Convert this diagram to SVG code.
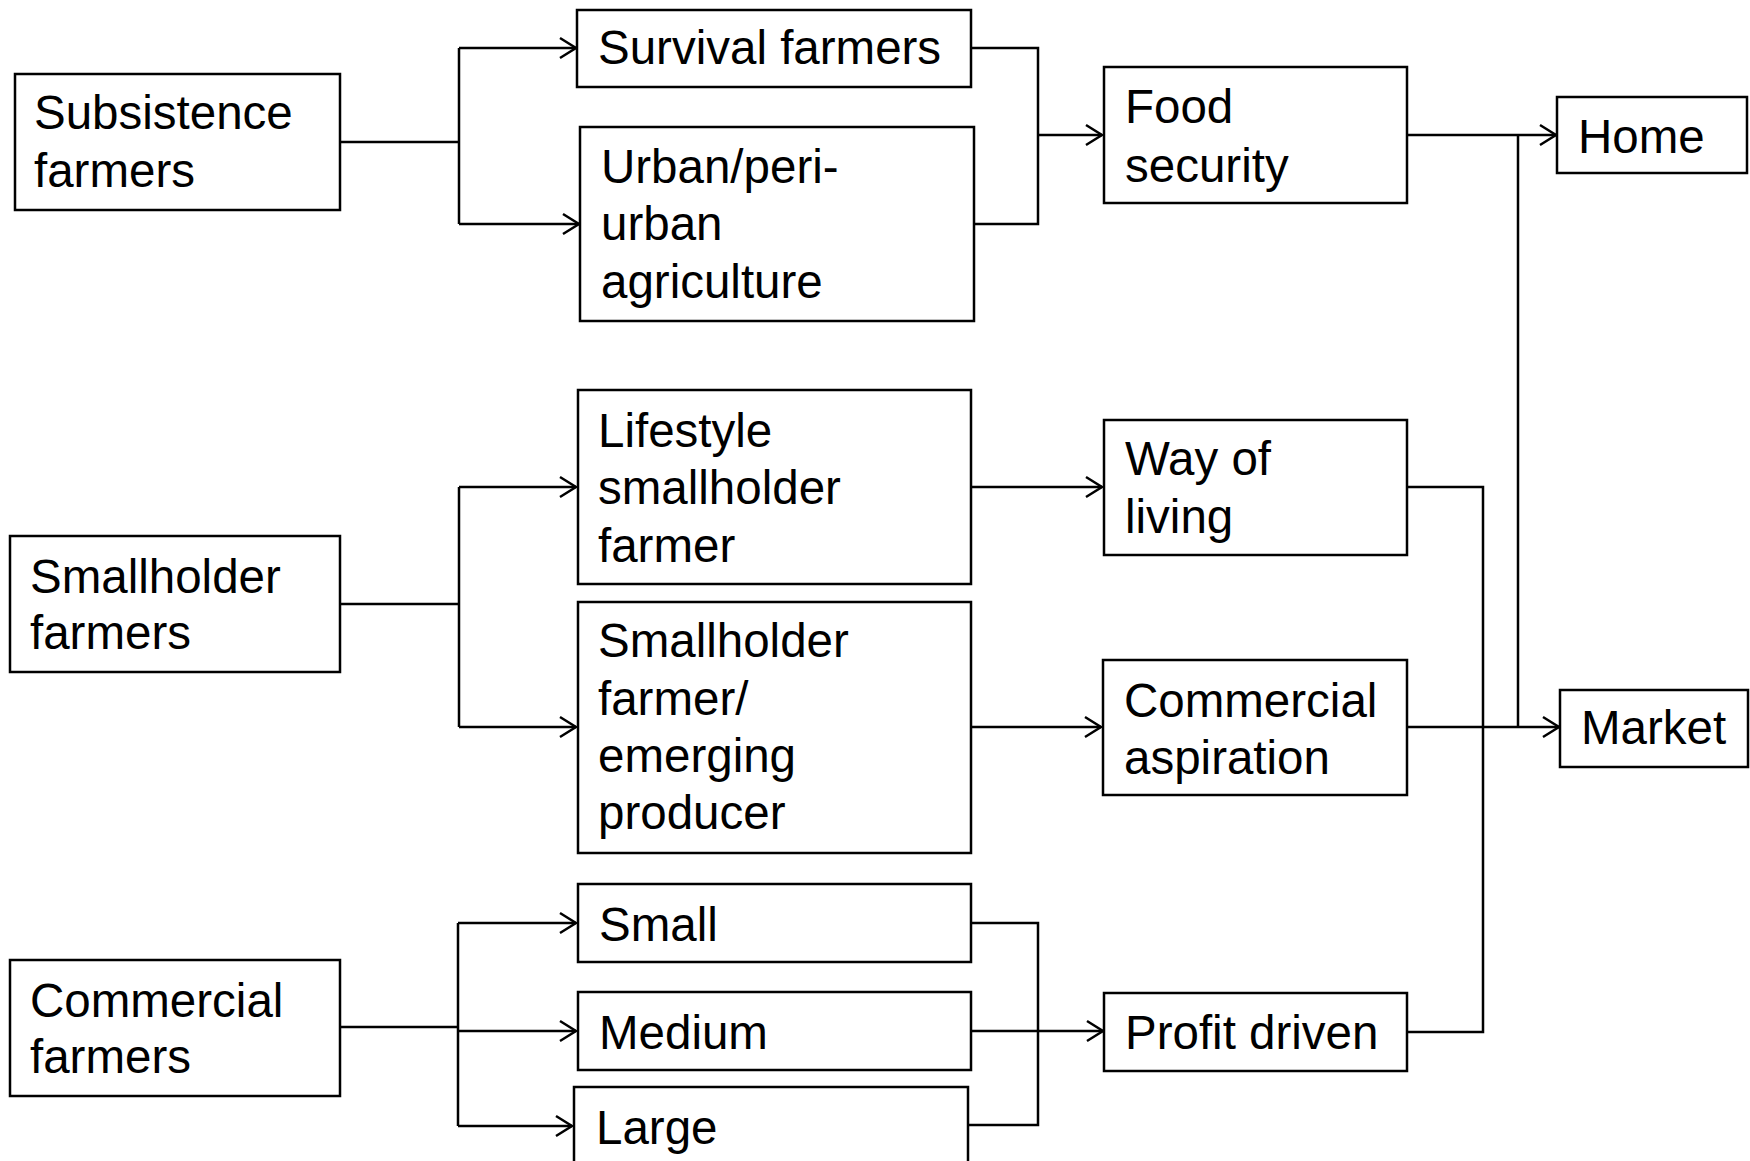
<svg xmlns="http://www.w3.org/2000/svg" width="1750" height="1161" viewBox="0 0 1750 1161">
<style>
.box{fill:#fff;stroke:#000;stroke-width:2.5}
.t{font-family:"Liberation Sans",Arial,sans-serif;font-size:47.5px;fill:#000}
.c{fill:none;stroke:#000;stroke-width:2.5}
.a{marker-end:url(#arr)}
</style>
<defs>
<marker id="arr" markerUnits="userSpaceOnUse" markerWidth="24" markerHeight="26" viewBox="-20 -13 24 26" refX="0" refY="0" orient="auto">
<path d="M-16,-10 L0,0 L-16,10" fill="none" stroke="#000" stroke-width="2.5"/>
</marker>
</defs>
<rect width="1750" height="1161" fill="#fff"/>
<g id="connectors">
<path class="c" d="M340,142 H459 M459,48 V224"/>
<path class="c a" d="M459,48 H576"/>
<path class="c a" d="M459,224 H579"/>
<path class="c" d="M971,48 H1038 V224 H974"/>
<path class="c a" d="M1038,135 H1102"/>
<path class="c a" d="M1407,135 H1556"/>
<path class="c" d="M1518,135 V727"/>
<path class="c" d="M340,604 H459 M459,487 V727"/>
<path class="c a" d="M459,487 H576"/>
<path class="c a" d="M459,727 H576"/>
<path class="c a" d="M971,487 H1102"/>
<path class="c a" d="M971,727 H1101"/>
<path class="c a" d="M1407,727 H1559"/>
<path class="c" d="M1407,487 H1483 V1032 H1407"/>
<path class="c" d="M340,1027 H458 M458,923 V1126"/>
<path class="c a" d="M458,923 H576"/>
<path class="c a" d="M458,1031 H576"/>
<path class="c a" d="M458,1126 H572"/>
<path class="c" d="M971,923 H1038 V1125 H968 M971,1031 H1038"/>
<path class="c a" d="M1038,1031 H1103"/>
</g>
<g id="subsistence"><rect class="box" x="15" y="74" width="325" height="136"/><text class="t" x="34" y="129">Subsistence</text><text class="t" x="34" y="187">farmers</text></g>
<g id="smallholder"><rect class="box" x="10" y="536" width="330" height="136"/><text class="t" x="30" y="593">Smallholder</text><text class="t" x="30" y="649">farmers</text></g>
<g id="commercial"><rect class="box" x="10" y="960" width="330" height="136"/><text class="t" x="30" y="1017">Commercial</text><text class="t" x="30" y="1073">farmers</text></g>
<g id="survival"><rect class="box" x="577" y="10" width="394" height="77"/><text class="t" x="598" y="64">Survival farmers</text></g>
<g id="urban"><rect class="box" x="580" y="127" width="394" height="194"/><text class="t" x="601" y="183">Urban/peri-</text><text class="t" x="601" y="240">urban</text><text class="t" x="601" y="298">agriculture</text></g>
<g id="lifestyle"><rect class="box" x="578" y="390" width="393" height="194"/><text class="t" x="598" y="447">Lifestyle</text><text class="t" x="598" y="504">smallholder</text><text class="t" x="598" y="562">farmer</text></g>
<g id="emerging"><rect class="box" x="578" y="602" width="393" height="251"/><text class="t" x="598" y="657">Smallholder</text><text class="t" x="598" y="715">farmer/</text><text class="t" x="598" y="772">emerging</text><text class="t" x="598" y="829">producer</text></g>
<g id="small"><rect class="box" x="578" y="884" width="393" height="78"/><text class="t" x="599" y="941">Small</text></g>
<g id="medium"><rect class="box" x="578" y="992" width="393" height="78"/><text class="t" x="599" y="1049">Medium</text></g>
<g id="large"><rect class="box" x="574" y="1087" width="394" height="100"/><text class="t" x="596" y="1144">Large</text></g>
<g id="food"><rect class="box" x="1104" y="67" width="303" height="136"/><text class="t" x="1125" y="123">Food</text><text class="t" x="1125" y="182">security</text></g>
<g id="way"><rect class="box" x="1104" y="420" width="303" height="135"/><text class="t" x="1125" y="475">Way of</text><text class="t" x="1125" y="533">living</text></g>
<g id="aspiration"><rect class="box" x="1103" y="660" width="304" height="135"/><text class="t" x="1124" y="717">Commercial</text><text class="t" x="1124" y="774">aspiration</text></g>
<g id="profit"><rect class="box" x="1104" y="993" width="303" height="78"/><text class="t" x="1125" y="1049">Profit driven</text></g>
<g id="home"><rect class="box" x="1557" y="97" width="190" height="76"/><text class="t" x="1578" y="153">Home</text></g>
<g id="market"><rect class="box" x="1560" y="690" width="188" height="77"/><text class="t" x="1581" y="744">Market</text></g>
</svg>
